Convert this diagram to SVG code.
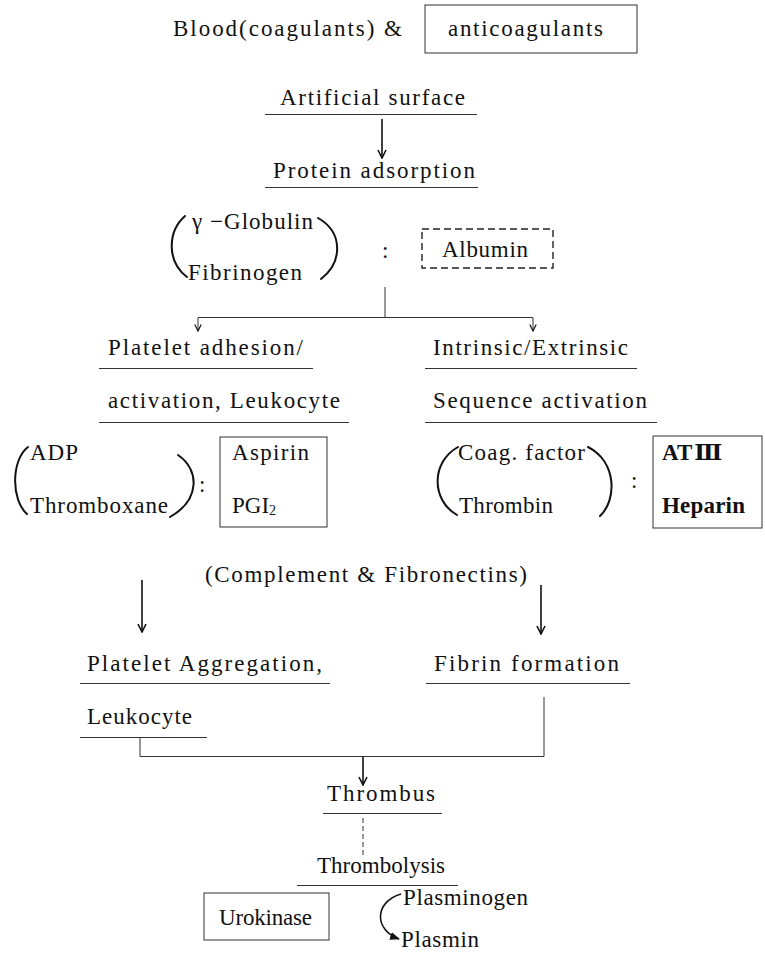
<svg xmlns="http://www.w3.org/2000/svg" width="765" height="953" viewBox="0 0 765 953">
<defs>
<style>
text{font-family:"Liberation Serif","DejaVu Serif","Noto Sans CJK JP",serif;font-size:23px;fill:#111;}
.b{font-weight:bold;}
.ul{stroke:#333;stroke-width:1;fill:none;}
.box{stroke:#333;stroke-width:1;fill:none;}
.dash{stroke:#222;stroke-width:1.4;fill:none;stroke-dasharray:7,4;}
.par{stroke:#111;stroke-width:2;fill:none;stroke-linecap:round;}
.ln{stroke:#333;stroke-width:1;fill:none;}
.ar{stroke:#111;stroke-width:1.6;fill:none;}
</style>
<marker id="v" viewBox="0 0 10 10" refX="9" refY="5" markerWidth="10" markerHeight="10" markerUnits="userSpaceOnUse" orient="auto">
<path d="M1,1 L9,5 L1,9" fill="none" stroke="#111" stroke-width="1.6"/>
</marker>
<marker id="vs" viewBox="0 0 10 10" refX="9" refY="5" markerWidth="8" markerHeight="8" markerUnits="userSpaceOnUse" orient="auto">
<path d="M1,1 L9,5 L1,9" fill="none" stroke="#111" stroke-width="1.5"/>
</marker>
<marker id="vf" viewBox="0 0 10 10" refX="9" refY="5" markerWidth="10" markerHeight="10" markerUnits="userSpaceOnUse" orient="auto">
<path d="M0,1 L10,5 L0,9 Z" fill="#111"/>
</marker>
</defs>
<rect width="765" height="953" fill="#fff"/>

<g id="blood">
<text x="173" y="36" textLength="229" lengthAdjust="spacing">Blood(coagulants) &amp;</text>
</g>
<g id="anticoagulants">
<rect class="box" x="425" y="5" width="212" height="48"/>
<text x="448" y="36" textLength="155" lengthAdjust="spacing">anticoagulants</text>
</g>
<g id="artificial-surface">
<text x="280" y="105" textLength="185" lengthAdjust="spacing">Artificial surface</text>
<line class="ul" x1="265" y1="114.5" x2="477" y2="114.5"/>
</g>
<g id="protein-adsorption">
<text x="273" y="178" textLength="202" lengthAdjust="spacing">Protein adsorption</text>
<line class="ul" x1="265" y1="187.5" x2="478" y2="187.5"/>
</g>
<g id="globulin-fibrinogen">
<path class="par" d="M185,216 C167,232 167,262 187,277"/>
<text x="192" y="229" textLength="121" lengthAdjust="spacing">γ −Globulin</text>
<text x="188" y="280" textLength="114" lengthAdjust="spacing">Fibrinogen</text>
<path class="par" d="M318,218 C343,232 343,262 321,279"/>
<text x="382" y="258">:</text>
</g>
<g id="albumin">
<rect class="dash" x="422" y="229" width="131" height="39"/>
<text x="442" y="257" textLength="86" lengthAdjust="spacing">Albumin</text>
</g>
<g id="platelet-adhesion">
<text x="108" y="355" textLength="195" lengthAdjust="spacing">Platelet adhesion/</text>
<line class="ul" x1="99" y1="368.5" x2="313" y2="368.5"/>
<text x="108" y="408" textLength="232" lengthAdjust="spacing">activation, Leukocyte</text>
<line class="ul" x1="99" y1="422.5" x2="349" y2="422.5"/>
</g>
<g id="sequence-activation">
<text x="433" y="355" textLength="195" lengthAdjust="spacing">Intrinsic/Extrinsic</text>
<line class="ul" x1="425" y1="368.5" x2="637" y2="368.5"/>
<text x="433" y="408" textLength="214" lengthAdjust="spacing">Sequence activation</text>
<line class="ul" x1="425" y1="422.5" x2="657" y2="422.5"/>
</g>
<g id="adp-thromboxane">
<path class="par" d="M28,447 C11,460 11,500 27,514"/>
<text x="30" y="460" textLength="48" lengthAdjust="spacing">ADP</text>
<text x="30" y="513" textLength="138" lengthAdjust="spacing">Thromboxane</text>
<path class="par" d="M178,455 C200,470 200,500 170,517"/>
<text x="199" y="492">:</text>
</g>
<g id="aspirin-pgi2">
<rect class="box" x="220" y="437" width="107" height="90"/>
<text x="232" y="460" textLength="77" lengthAdjust="spacing">Aspirin</text>
<text x="232" y="513">PGI<tspan font-size="14" dy="2">2</tspan></text>
</g>
<g id="coag-thrombin">
<path class="par" d="M458,447 C431,462 431,500 457,515"/>
<text x="458" y="460" textLength="127" lengthAdjust="spacing">Coag. factor</text>
<text x="459" y="513" textLength="94" lengthAdjust="spacing">Thrombin</text>
<path class="par" d="M588,447 C617,462 617,500 600,516"/>
<text x="631" y="488">:</text>
</g>
<g id="atiii-heparin">
<rect class="box" x="653" y="436" width="109" height="92"/>
<text class="b" x="662" y="460">AT<tspan dx="2">Ⅲ</tspan></text>
<text class="b" x="662" y="513" textLength="83" lengthAdjust="spacing">Heparin</text>
</g>
<g id="complement">
<text x="205" y="582" textLength="322" lengthAdjust="spacing">(Complement &amp; Fibronectins)</text>
</g>
<g id="platelet-aggregation">
<text x="87" y="671" textLength="235" lengthAdjust="spacing">Platelet Aggregation,</text>
<line class="ul" x1="80" y1="683.5" x2="330" y2="683.5"/>
<text x="87" y="724" textLength="105" lengthAdjust="spacing">Leukocyte</text>
<line class="ul" x1="80" y1="737.5" x2="207" y2="737.5"/>
</g>
<g id="fibrin-formation">
<text x="434" y="671" textLength="185" lengthAdjust="spacing">Fibrin formation</text>
<line class="ul" x1="426" y1="683.5" x2="630" y2="683.5"/>
</g>
<g id="thrombus">
<text x="327" y="801" textLength="108" lengthAdjust="spacing">Thrombus</text>
<line class="ul" x1="323" y1="813.5" x2="442" y2="813.5"/>
</g>
<g id="thrombolysis">
<text x="317" y="873" textLength="128" lengthAdjust="spacing">Thrombolysis</text>
<line class="ul" x1="297" y1="885.5" x2="458" y2="885.5"/>
</g>
<g id="urokinase">
<rect class="box" x="204" y="893" width="125" height="47"/>
<text x="219" y="925" textLength="93" lengthAdjust="spacing">Urokinase</text>
</g>
<g id="plasminogen">
<text x="403" y="905" textLength="125" lengthAdjust="spacing">Plasminogen</text>
<text x="401" y="947" textLength="78" lengthAdjust="spacing">Plasmin</text>
</g>

<g id="connectors">
<line class="ar" x1="382" y1="119" x2="382" y2="158" marker-end="url(#v)"/>
<line class="ln" x1="385" y1="287" x2="385" y2="317.5"/>
<line class="ln" x1="198" y1="317.5" x2="533" y2="317.5"/>
<line class="ln" x1="198" y1="317.5" x2="198" y2="331" marker-end="url(#vs)"/>
<line class="ln" x1="533" y1="317.5" x2="533" y2="331" marker-end="url(#vs)"/>
<line class="ar" x1="142" y1="580" x2="142" y2="632" marker-end="url(#v)"/>
<line class="ar" x1="541" y1="585" x2="541" y2="634" marker-end="url(#v)"/>
<polyline class="ln" points="140,737.5 140,756.5 544,756.5 544,697"/>
<line class="ar" x1="363" y1="757" x2="363" y2="785" marker-end="url(#v)"/>
<line class="ln" x1="363" y1="818" x2="363" y2="855" stroke-dasharray="5,3" stroke-width="1.3"/>
<path class="ar" d="M401,894 C374,902 374,930 399,939" marker-end="url(#vf)"/>
</g>
</svg>
